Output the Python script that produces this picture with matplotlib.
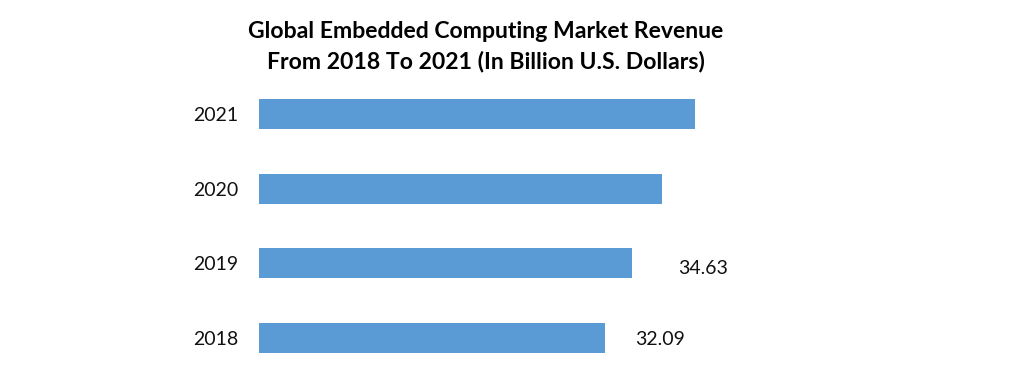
import matplotlib
matplotlib.use('Agg')
import matplotlib.pyplot as plt

# data
years = ['2018', '2019', '2020', '2021']
revenue = [32.09, 34.63, 37.4, 40.4]
shown_labels = ['32.09', '34.63', '', '']
label_dx = [30, 46, 0, 0]   # px right of bar end, as in the original
label_dy = [-2, -5, 0, 0]   # px up

plt.rcParams['font.family'] = ['Lato', 'DejaVu Sans']

fig = plt.figure(figsize=(10.16, 3.77), dpi=100)
ax = fig.add_axes([259 / 1016, 1 - 375.3 / 377, (950 - 259) / 1016, (375.3 - 76.7) / 377])

pos = list(range(len(years)))
ax.barh(pos, revenue, height=0.4, color='#5B9BD5')
ax.set_xlim(0, (950 - 259) / 10.78)
ax.set_ylim(-0.5, len(years) - 0.5)
ax.set_yticks(pos)
ax.set_yticklabels(years, fontsize=14, color='#111111')
ax.tick_params(axis='y', length=0, pad=15)
ax.set_xticks([])
for s in ax.spines.values():
    s.set_visible(False)

for p, v, lab, dx, dy in zip(pos, revenue, shown_labels, label_dx, label_dy):
    if lab:
        ax.annotate(lab, (v, p), xytext=(dx * 0.72, dy * 0.72), textcoords='offset points',
                    ha='left', va='center', fontsize=14, color='#111111')

fig.text(0.478, 1 - 32 / 377, 'Global Embedded Computing Market Revenue',
         ha='center', va='center', fontsize=16.6, fontweight='bold')
fig.text(0.478, 1 - 62 / 377, 'From 2018 To 2021 (In Billion U.S. Dollars)',
         ha='center', va='center', fontsize=16.6, fontweight='bold')

fig.savefig('out.png', dpi=100)
